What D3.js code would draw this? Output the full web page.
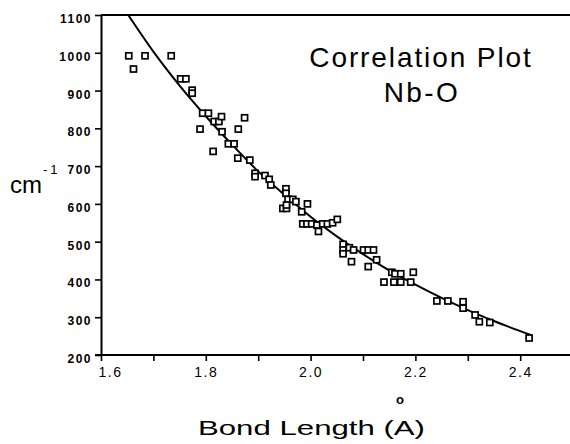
<!DOCTYPE html>
<html>
<head>
<meta charset="utf-8">
<script src="https://cdn.jsdelivr.net/npm/d3@7"></script>
<style>
  body { margin: 0; background: #fff; }
  text { font-family: "Liberation Sans", Arial, sans-serif; fill: #000; }
</style>
</head>
<body>
<div id="chart"></div>
<script>
// observed points (bond length in angstrom, frequency in cm-1)
const bondLength = [1.653, 1.662, 1.684, 1.734, 1.752, 1.762, 1.774, 1.774, 1.789, 1.794,
  1.805, 1.814, 1.816, 1.825, 1.830, 1.831, 1.843, 1.854, 1.861, 1.862,
  1.874, 1.884, 1.894, 1.894, 1.913, 1.921, 1.924, 1.953, 1.953, 1.957,
  1.966, 1.972, 1.947, 1.954, 1.954, 1.983, 1.994, 1.985, 1.993, 2.002,
  2.012, 2.015, 2.023, 2.032, 2.042, 2.051, 2.062, 2.062, 2.062, 2.074,
  2.082, 2.078, 2.101, 2.110, 2.120, 2.110, 2.126, 2.155, 2.161, 2.172,
  2.196, 2.140, 2.159, 2.172, 2.191, 2.241, 2.262, 2.291, 2.291, 2.314,
  2.322, 2.342, 2.417];
const wavenumber = [992, 957, 992, 992, 931, 931, 901, 893, 798, 840,
  840, 739, 818, 818, 831, 791, 759, 759, 721, 798,
  828, 716, 681, 672, 675, 665, 650, 640, 628, 612,
  612, 606, 588, 588, 597, 579, 600, 547, 547, 547,
  544, 527, 547, 547, 550, 559, 493, 478, 468, 484,
  478, 447, 478, 478, 478, 434, 452, 419, 415, 415,
  419, 393, 393, 393, 393, 343, 343, 341, 324, 306,
  288, 286, 245];

// fitted curve
const fitX = [1.652, 1.70, 1.75, 1.80, 1.85, 1.90, 1.95, 2.00, 2.05, 2.10, 2.15, 2.20, 2.25, 2.30, 2.35, 2.42];
const fitY = [1100, 1003, 913, 832, 757, 686, 624, 566, 514, 467, 424, 386, 351, 319, 290, 253];

const yTicks = [200, 300, 400, 500, 600, 700, 800, 900, 1000, 1100];
const xTicks = [1.6, 1.7, 1.8, 1.9, 2.0, 2.1, 2.2, 2.3, 2.4];
const xLabels = ["1.6", "", "1.8", "", "2.0", "", "2.2", "", "2.4"];

const width = 570;
const height = 444;
const margin = { top: 15, bottom: 89, left: 101, right: 0 };

const svg = d3.select("#chart")
  .append("svg")
  .attr("width", width)
  .attr("height", height);

const x = d3.scaleLinear()
  .domain([1.6, 2.5])
  .range([margin.left, margin.left + 52.4 * 9]);

const y = d3.scaleLinear()
  .domain([200, 1100])
  .range([height - margin.bottom, margin.top]);

// top frame line
svg.append("line")
  .attr("x1", x(1.6)).attr("x2", width)
  .attr("y1", y(1100)).attr("y2", y(1100))
  .attr("stroke", "#000").attr("stroke-width", 2);

function xAxis(g) {
  g.attr("transform", `translate(0,${y(200)})`)
    .call(d3.axisBottom(x).tickValues(xTicks).tickSize(6).tickSizeOuter(0)
      .tickFormat((d, i) => xLabels[i]))
  g.select(".domain").attr("stroke-width", 2).attr("d", `M${x(1.6) - 6},0H${width}`);
  g.selectAll(".tick line").attr("stroke-width", 1.6);
  g.selectAll(".tick text")
    .attr("font-size", "14px")
    .attr("letter-spacing", "1.5px")
    .attr("font-family", "Liberation Sans, Arial, sans-serif")
    .attr("y", 12)
    .attr("dx", (d, i) => i === 0 ? 9 : 0);
}

function yAxis(g) {
  g.attr("transform", `translate(${x(1.6)},0)`)
    .call(d3.axisLeft(y).tickValues(yTicks).tickSize(6).tickSizeOuter(0)
      .tickFormat(d3.format("d")))
  g.select(".domain").attr("stroke-width", 2);
  g.selectAll(".tick line").attr("stroke-width", 1.6);
  g.selectAll(".tick text")
    .attr("font-size", "12px")
    .attr("font-weight", "bold")
    .attr("letter-spacing", "1.5px")
    .attr("font-family", "Liberation Sans, Arial, sans-serif")
    .attr("x", -9)
    .attr("dy", "0.62em");
}

svg.append("g").call(xAxis);
svg.append("g").call(yAxis);

// fitted line
const fit = fitX.map((d, i) => [d, fitY[i]]);
svg.append("path")
  .datum(fit)
  .attr("fill", "none")
  .attr("stroke", "#000")
  .attr("stroke-width", 2)
  .attr("d", d3.line().x(d => x(d[0])).y(d => y(d[1])).curve(d3.curveMonotoneX));

// points as open squares
const pts = bondLength.map((d, i) => ({ r: d, v: wavenumber[i] }));
svg.append("g")
  .selectAll("rect")
  .data(pts)
  .join("rect")
    .attr("x", d => x(d.r) - 3)
    .attr("y", d => y(d.v) - 3)
    .attr("width", 6)
    .attr("height", 6)
    .attr("fill", "#fff")
    .attr("stroke", "#000")
    .attr("stroke-width", 1.7);

// titles
svg.append("text")
  .attr("x", 421).attr("y", 67)
  .attr("text-anchor", "middle")
  .attr("font-size", "28px")
  .attr("letter-spacing", "1.9px")
  .text("Correlation Plot");
svg.append("text")
  .attr("x", 422).attr("y", 102)
  .attr("text-anchor", "middle")
  .attr("font-size", "28px")
  .attr("letter-spacing", "2.4px")
  .text("Nb-O");

// y unit
svg.append("text")
  .attr("x", 10).attr("y", 193)
  .attr("font-size", "24px")
  .text("cm");
svg.append("text")
  .attr("x", 43).attr("y", 174)
  .attr("font-size", "13px")
  .attr("letter-spacing", "3px")
  .text("-1");

// x axis title
svg.append("text")
  .attr("x", 198).attr("y", 435)
  .attr("font-size", "21px")
  .attr("textLength", 227)
  .attr("lengthAdjust", "spacingAndGlyphs")
  .text("Bond Length (A)");
svg.append("text")
  .attr("x", 400).attr("y", 404)
  .attr("text-anchor", "middle")
  .attr("font-size", "13px")
  .attr("font-weight", "bold")
  .text("o");
</script>
</body>
</html>
